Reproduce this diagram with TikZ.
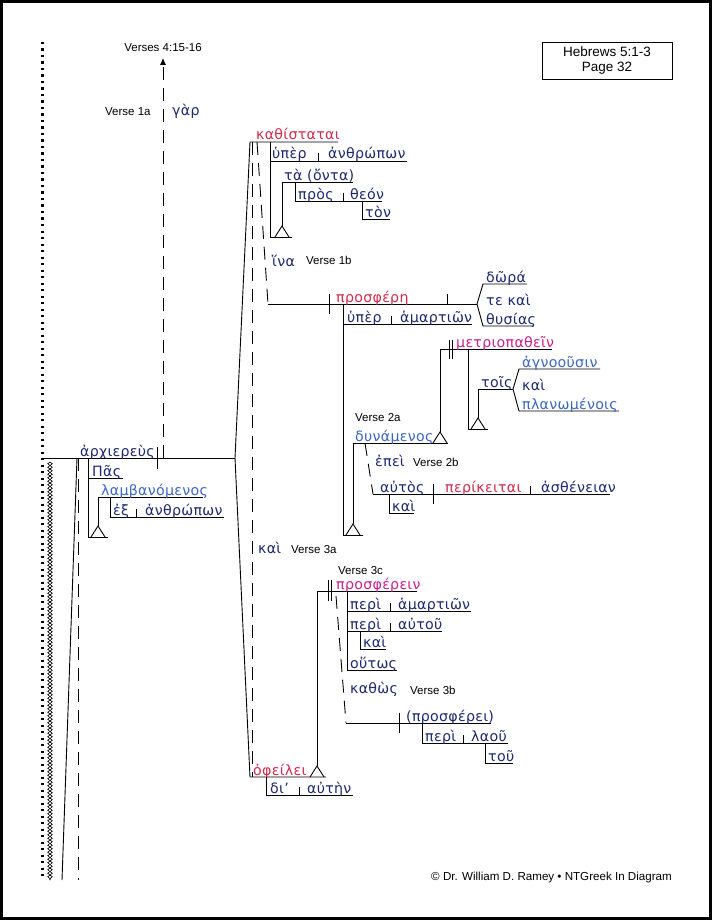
\documentclass[tikz,border=0pt]{standalone}
\usepackage{fontspec}
\setmainfont{Liberation Sans}
\newfontfamily\gkfont[LetterSpace=2]{DejaVu Sans}
\usetikzlibrary{arrows.meta,decorations.pathmorphing}
\definecolor{navy}{HTML}{1C2870}
\definecolor{vred}{HTML}{D42A4C}
\definecolor{vmag}{HTML}{C8208C}
\definecolor{pblue}{HTML}{3A66C4}
\tikzset{
  gk/.style={font=\gkfont\fontsize{14.2}{16}\selectfont, inner sep=0pt, anchor=base west, text=navy},
  lab/.style={font=\fontsize{11.5}{13}\selectfont, inner sep=0pt, anchor=base west},
  ln/.style={line width=0.9pt, black},
  dsh/.style={line width=0.9pt, dash pattern=on 13pt off 8pt},
  dotl/.style={line width=3pt, dash pattern=on 2.4pt off 4.1pt},
}
\newcommand{\tri}[2]{\draw[ln] (#1-7,#2) -- (#1,#2-11) -- (#1+7,#2);}
\begin{document}
\begin{tikzpicture}[x=1pt,y=-1pt]
\useasboundingbox (0,0) rectangle (712,920);
\draw[line width=3pt] (1.5,1.5) rectangle (710.5,918.5);

% header box
\draw[line width=0.9pt] (542,42) rectangle (672,79);
\node[font=\fontsize{13.5}{15.5}\selectfont, inner sep=0pt, align=center] (hdr) at (607,60.5) {Hebrews 5:1-3\\Page 32};
\node[font=\fontsize{11.6}{13}\selectfont, inner sep=0pt, anchor=base east] (copy) at (672,880) {\textcopyright{} Dr. William D. Ramey • NTGreek In Diagram};

% left edge lines
\draw[dotl] (42,42) -- (42,880);
\draw[line width=0.6pt, decorate, decoration={zigzag, segment length=7pt, amplitude=2.3pt}] (50,462) -- (50,880);
\draw[line width=0.6pt, decorate, decoration={zigzag, segment length=7pt, amplitude=2.3pt, mirror}] (50,462) -- (50,880);
\draw[ln] (77,458) -- (62,880);
\draw[dsh] (78,458) -- (78,880);

% main subject line
\draw[ln] (42,458) -- (235,458);
\node[gk] (archiereus) at (80,456) {ἀρχιερεὺς};
\draw[ln] (157,447) -- (157,469);
% gar connector
\draw[dsh, -{Latex[length=7pt,width=6pt]}] (163,458) -- (163,58);
\node[lab, anchor=base] (v415) at (163,52) {Verses 4:15-16};
\node[lab] (v1a) at (105,116) {Verse 1a};
\node[gk] (gar) at (172,116) {γὰρ};

% subject modifiers
\draw[ln] (88,458) -- (88,537);
\draw[ln] (88,478) -- (123,478);
\node[gk] (pas) at (92,476) {Πᾶς};
\draw[ln] (88,537) -- (108,537);
\tri{98}{537}
\draw[ln] (98,526) -- (98,497) -- (203,497);
\node[gk, text=pblue] (lamb) at (101,495) {λαμβανόμενος};
\draw[ln] (110,497) -- (110,517) -- (224,517);
\draw[ln] (136,509) -- (136,517);
\node[gk] (ex) at (113,515) {ἐξ};
\node[gk] (anthr1) at (145,515) {ἀνθρώπων};

% compound predicate fork
\draw[ln] (235,458) -- (250,142) -- (338,142);
\draw[ln] (235,458) -- (250,777) -- (326,777);
\draw[dsh] (252,142) -- (252,777);
\node[gk] (kai3a) at (258,553) {καὶ};
\node[lab] (v3a) at (291,553) {Verse 3a};

% kathistatai clause
\node[gk, text=vred] (kath) at (256,140) {καθίσταται};
\draw[ln] (270,142) -- (270,237) -- (292,237);
\draw[ln] (270,161) -- (407,161);
\draw[ln] (318,153) -- (318,161);
\node[gk] (hyper1) at (272,159) {ὑπὲρ};
\node[gk] (anthr2) at (328,159) {ἀνθρώπων};
\tri{282}{237}
\draw[ln] (282,226) -- (282,182) -- (353,182);
\node[gk] (onta) at (284,180) {τὰ (ὄντα)};
\draw[ln] (295,182) -- (295,201) -- (382,201);
\draw[ln] (343,193) -- (343,201);
\node[gk] (pros) at (298,199) {πρὸς};
\node[gk] (theon) at (350,199) {θεόν};
\draw[ln] (362,201) -- (362,219) -- (390,219);
\node[gk] (ton) at (365,217) {τὸν};

% hina clause
\draw[dsh] (257,142) -- (268,304);
\node[gk] (hina) at (272,266) {ἵνα};
\node[lab] (v1b) at (306,264) {Verse 1b};
\draw[ln] (268,304) -- (477,304);
\draw[ln] (329,294) -- (329,314);
\draw[ln] (447,294) -- (447,304);
\node[gk, text=vred] (prosfere) at (336,302) {προσφέρη};
\draw[ln] (477,304) -- (483,284) -- (527,284);
\draw[ln] (477,304) -- (483,326) -- (533,326);
\node[gk] (dora) at (486,282) {δῶρά};
\node[gk] (tekai) at (486,305) {τε καὶ};
\node[gk] (thysias) at (486,324) {θυσίας};
\draw[ln] (343,304) -- (343,535) -- (363,535);
\draw[ln] (343,324) -- (472,324);
\draw[ln] (391,316) -- (391,324);
\node[gk] (hyper2) at (347,322) {ὑπὲρ};
\node[gk] (hamart1) at (400,322) {ἁμαρτιῶν};
\tri{353}{535}
\draw[ln] (353,524) -- (353,443) -- (448,443);
\node[lab] (v2a) at (355,421) {Verse 2a};
\node[gk, text=pblue] (dyn) at (355,441) {δυνάμενος};
\tri{440}{443}
\draw[ln] (440,432) -- (440,349) -- (552,349);
\draw[ln] (449,340) -- (449,359);
\draw[ln] (452,340) -- (452,359);
\node[gk, text=vmag] (metrio) at (456,347) {μετριοπαθεῖν};
\draw[ln] (468,349) -- (468,429) -- (488,429);
\tri{478}{429}
\draw[ln] (478,418) -- (478,389) -- (513,389);
\node[gk] (tois) at (481,387) {τοῖς};
\draw[ln] (513,389) -- (519,369) -- (600,369);
\draw[ln] (513,389) -- (519,411) -- (619,411);
\node[gk, text=pblue] (agno) at (522,367) {ἀγνοοῦσιν};
\node[gk] (kai2) at (522,390) {καὶ};
\node[gk, text=pblue] (plan) at (522,409) {πλανωμένοις};

% epei clause
\draw[dsh] (365,443) -- (373,494);
\node[gk] (epei) at (375,466) {ἐπεὶ};
\node[lab] (v2b) at (413,466) {Verse 2b};
\draw[ln] (373,494) -- (610,494);
\draw[ln] (433,484) -- (433,504);
\draw[ln] (530,486) -- (530,494);
\node[gk] (autos) at (380,492) {αὐτὸς};
\node[gk, text=vred] (perik) at (445,492) {περίκειται};
\node[gk] (asth) at (541,492) {ἀσθένειαν};
\draw[ln] (389,494) -- (389,513) -- (414,513);
\node[gk] (kai1) at (392,511) {καὶ};

% opheilei clause
\node[gk, text=vred] (opheilei) at (253,775) {ὀφείλει};
\tri{317}{777}
\draw[ln] (317,766) -- (317,591) -- (417,591);
\draw[ln] (328,580) -- (328,601);
\draw[ln] (331,580) -- (331,601);
\node[lab] (v3c) at (338,574) {Verse 3c};
\node[gk, text=vmag] (prosferein) at (336,589) {προσφέρειν};
\draw[ln] (347,591) -- (347,670) -- (397,670);
\draw[ln] (347,611) -- (471,611);
\draw[ln] (390,603) -- (390,611);
\node[gk] (peri1) at (350,609) {περὶ};
\node[gk] (hamart2) at (398,609) {ἁμαρτιῶν};
\draw[ln] (347,631) -- (442,631);
\draw[ln] (390,623) -- (390,631);
\node[gk] (peri2) at (350,629) {περὶ};
\node[gk] (autou) at (398,629) {αὐτοῦ};
\draw[ln] (360,631) -- (360,649) -- (386,649);
\node[gk] (kai4) at (363,647) {καὶ};
\node[gk] (houtos) at (350,668) {οὕτως};
\draw[dsh] (336,596) -- (346,723);
\node[gk] (kathos) at (350,693) {καθὼς};
\node[lab] (v3b) at (410,694) {Verse 3b};
\draw[ln] (346,723) -- (491,723);
\draw[ln] (399,713) -- (399,733);
\node[gk] (prosferei) at (406,721) {(προσφέρει)};
\draw[ln] (422,723) -- (422,743) -- (508,743);
\draw[ln] (463,735) -- (463,743);
\node[gk] (peri3) at (425,741) {περὶ};
\node[gk] (laou) at (471,741) {λαοῦ};
\draw[ln] (485,743) -- (485,763) -- (513,763);
\node[gk] (tou) at (488,761) {τοῦ};
\draw[ln] (266,777) -- (266,795) -- (353,795);
\draw[ln] (299,787) -- (299,795);
\node[gk] (di) at (270,793) {δι’};
\node[gk] (auten) at (307,793) {αὐτὴν};
\end{tikzpicture}
\end{document}
